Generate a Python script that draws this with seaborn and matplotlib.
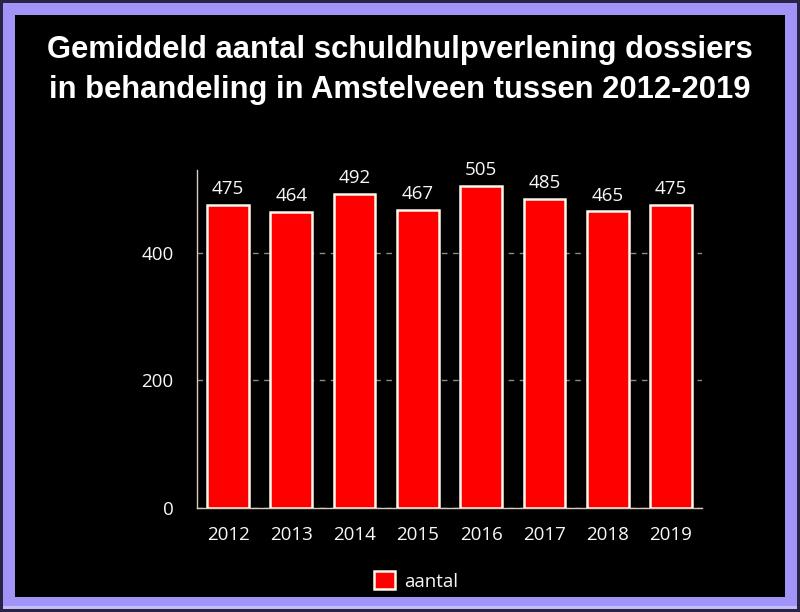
import matplotlib
matplotlib.use("Agg")
import matplotlib.pyplot as plt
from matplotlib.patches import Rectangle
import seaborn as sns
import pandas as pd

years = ["2012", "2013", "2014", "2015", "2016", "2017", "2018", "2019"]
aantal = [475, 464, 492, 467, 505, 485, 465, 475]
yticks = [0, 200, 400]
title = "Gemiddeld aantal schuldhulpverlening dossiers\nin behandeling in Amstelveen tussen 2012-2019"

df = pd.DataFrame({"jaar": years, "aantal": aantal})

sns.set_theme(style="dark")
plt.rcParams["font.family"] = ["Open Sans", "DejaVu Sans"]

W, H = 800, 612
fig = plt.figure(figsize=(8, 6.12), dpi=100)
fig.patch.set_facecolor("#2a2444")

def px_rect(x0, y0, x1, y1, color, z):
    fig.patches.append(Rectangle((x0 / W, 1 - y1 / H), (x1 - x0) / W, (y1 - y0) / H,
                                 transform=fig.transFigure, facecolor=color,
                                 edgecolor="none", zorder=z))

px_rect(3, 3, 797, 609, "#c4bcf6", -3)
px_rect(3, 3, 797, 606, "#a194f7", -2)
px_rect(15, 15, 785, 597, "#000000", -1)

ax = fig.add_axes([197 / W, 1 - 508 / H, (702 - 197) / W, (508 - 170) / H])
ax.set_facecolor("#000000")

sns.barplot(data=df, x="jaar", y="aantal", color="#ff0000", width=0.66,
            edgecolor="#fff8ec", linewidth=1.8, saturation=1, ax=ax,
            label="aantal", zorder=3)

for c in ax.containers:
    ax.bar_label(c, labels=[str(v) for v in aantal], padding=5,
                 color="#f8f8f8", fontsize=13.5)

ax.set_xlim(-0.49, 7.49)
ax.set_ylim(0, 530)
ax.set_yticks(yticks)
ax.set_yticklabels([str(t) for t in yticks])
ax.set_xlabel("")
ax.set_ylabel("")
ax.tick_params(axis="both", colors="#f8f8f8", labelsize=13.5, length=0)
ax.tick_params(axis="y", pad=17)
ax.tick_params(axis="x", pad=13)
ax.yaxis.grid(True, color="#8a8a8a", linestyle=(0, (4, 4)), linewidth=1)
ax.xaxis.grid(False)
ax.set_axisbelow(True)
for s in ["top", "right"]:
    ax.spines[s].set_visible(False)
for s in ["left", "bottom"]:
    ax.spines[s].set_visible(True)
    ax.spines[s].set_color("#d9cbbd")
    ax.spines[s].set_linewidth(1)

fig.text(0.5, 1 - 70 / H, title, ha="center", va="center", color="white",
         fontsize=22.3, fontweight="bold", family=["Liberation Sans", "DejaVu Sans"],
         linespacing=1.45)

leg = ax.legend(loc="center", bbox_to_anchor=(0.52, 1 - 581 / H), bbox_transform=fig.transFigure,
                frameon=False, fontsize=13.5, handlelength=1.1, handleheight=1.1,
                handletextpad=0.5, labelcolor="#f8f8f8")

fig.savefig("out.png", dpi=100, facecolor=fig.get_facecolor())
